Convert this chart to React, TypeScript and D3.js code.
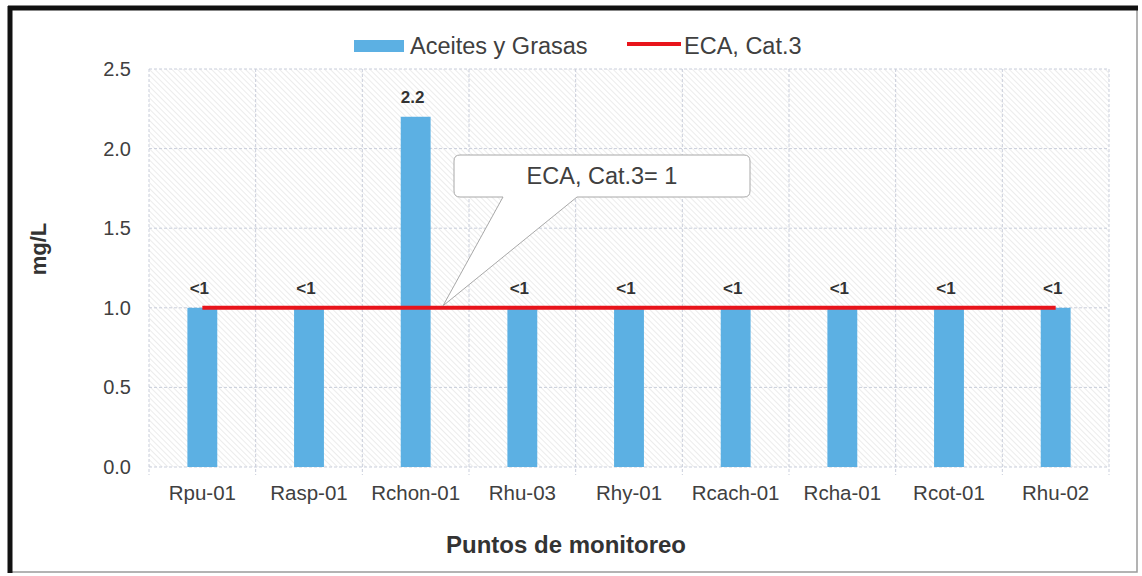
import React from "react";
import * as d3 from "d3";

const categories = ["Rpu-01", "Rasp-01", "Rchon-01", "Rhu-03", "Rhy-01", "Rcach-01", "Rcha-01", "Rcot-01", "Rhu-02"];
const values = [1, 1, 2.2, 1, 1, 1, 1, 1, 1];
const valueLabels = ["<1", "<1", "2.2", "<1", "<1", "<1", "<1", "<1", "<1"];
const ecaValues = [1, 1, 1, 1, 1, 1, 1, 1, 1];
const yTicks = [0, 0.5, 1.0, 1.5, 2.0, 2.5];
const seriesNames = ["Aceites y Grasas", "ECA, Cat.3"];
const calloutText = "ECA, Cat.3= 1";

const W = 1142, H = 576;
const plot = { left: 149, right: 1109, top: 69, bottom: 467 };

export default function App() {
  const x = d3.scaleBand<string>().domain(categories).range([plot.left, plot.right]).paddingInner(0).paddingOuter(0);
  const y = d3.scaleLinear().domain([0, 2.5]).range([plot.bottom, plot.top]);
  const bw = x.bandwidth();
  const barW = bw * 0.28;
  const font = "'Liberation Sans', Arial, sans-serif";
  const line = d3.line<number>()
    .x((_, i) => (x(categories[i]) as number) + bw / 2)
    .y((d) => y(d));

  // callout geometry
  const anchorX = 443, anchorY = y(1) - 2;
  const bx0 = 454, bx1 = 750, by0 = 155, by1 = 197, r = 6;
  const p0 = 503, p1 = 577;
  const calloutPath = `M${bx0 + r},${by0} H${bx1 - r} Q${bx1},${by0} ${bx1},${by0 + r} V${by1 - r} Q${bx1},${by1} ${bx1 - r},${by1} H${p1} L${anchorX},${anchorY} L${p0},${by1} H${bx0 + r} Q${bx0},${by1} ${bx0},${by1 - r} V${by0 + r} Q${bx0},${by0} ${bx0 + r},${by0} Z`;

  return (
    <svg width={W} height={H} style={{ position: "absolute", left: 0, top: 0 }} fontFamily={font}>
      <defs>
        <pattern id="hatch" width="4" height="4" patternUnits="userSpaceOnUse" patternTransform="rotate(-45)">
          <rect width="4" height="4" fill="#ffffff" />
          <line x1="0" y1="0" x2="0" y2="4" stroke="#e2e2e2" strokeWidth="1.3" />
        </pattern>
      </defs>
      <rect x={0} y={0} width={W} height={H} fill="#ffffff" />
      {/* outer frame */}
      <rect x={10} y={7} width={1127} height={565} fill="#ffffff" stroke="#9a9a9a" strokeWidth={1.5} />
      <line x1={10} y1={6} x2={10} y2={573} stroke="#111" strokeWidth={5} />
      <line x1={8} y1={8} x2={1138} y2={8} stroke="#111" strokeWidth={5} />

      {/* plot background */}
      <rect x={plot.left} y={plot.top} width={plot.right - plot.left} height={plot.bottom - plot.top} fill="url(#hatch)" />

      {/* horizontal gridlines */}
      {yTicks.map((t) => (
        <line key={"h" + t} x1={plot.left} x2={plot.right} y1={y(t)} y2={y(t)} stroke="#c9cedb" strokeWidth={1} strokeDasharray="3,2" />
      ))}
      {/* vertical gridlines */}
      {categories.map((c) => (
        <line key={"v" + c} x1={x(c) as number} x2={x(c) as number} y1={plot.top} y2={plot.bottom + 8} stroke="#c9cedb" strokeWidth={1} strokeDasharray="3,2" />
      ))}
      <line x1={plot.right} x2={plot.right} y1={plot.top} y2={plot.bottom + 8} stroke="#c9cedb" strokeWidth={1} strokeDasharray="3,2" />

      {/* y tick labels */}
      {yTicks.map((t) => (
        <text key={"yt" + t} x={plot.left - 18} y={y(t)} dy="0.35em" textAnchor="end" fontSize={20} fill="#404040">
          {t.toFixed(1)}
        </text>
      ))}

      {/* bars */}
      {categories.map((c, i) => (
        <rect key={"b" + c} x={(x(c) as number) + bw / 2 - barW / 2} y={y(values[i])} width={barW} height={y(0) - y(values[i])} fill="#5cb0e3" />
      ))}

      {/* ECA line */}
      <path d={line(ecaValues) || ""} fill="none" stroke="#e8141b" strokeWidth={4} />

      {/* value labels */}
      {categories.map((c, i) => (
        <text key={"vl" + c} x={(x(c) as number) + bw / 2 - 3} y={y(values[i]) - 14} textAnchor="middle" fontSize={17} fontWeight="bold" fill="#333">
          {valueLabels[i]}
        </text>
      ))}

      {/* x category labels */}
      {categories.map((c) => (
        <text key={"xl" + c} x={(x(c) as number) + bw / 2} y={plot.bottom + 33} textAnchor="middle" fontSize={20.5} fill="#404040">
          {c}
        </text>
      ))}

      {/* callout */}
      <path d={calloutPath} fill="#ffffff" stroke="#a8a8a8" strokeWidth={1} />
      <text x={(bx0 + bx1) / 2} y={(by0 + by1) / 2} dy="0.35em" textAnchor="middle" fontSize={23.5} fill="#404040">
        {calloutText}
      </text>

      {/* legend */}
      <rect x={354} y={40} width={50} height={12} fill="#5cb0e3" />
      <text x={410} y={46} dy="0.35em" fontSize={23.5} fill="#404040">{seriesNames[0]}</text>
      <line x1={627} x2={681} y1={44} y2={44} stroke="#e8141b" strokeWidth={4} />
      <text x={684} y={46} dy="0.35em" fontSize={23.5} fill="#404040">{seriesNames[1]}</text>

      {/* axis titles */}
      <text transform={`translate(46, 249) rotate(-90)`} textAnchor="middle" fontSize={22} fontWeight="bold" fill="#333">
        mg/L
      </text>
      <text x={566} y={553} textAnchor="middle" fontSize={24} fontWeight="bold" fill="#333">
        Puntos de monitoreo
      </text>
    </svg>
  );
}
